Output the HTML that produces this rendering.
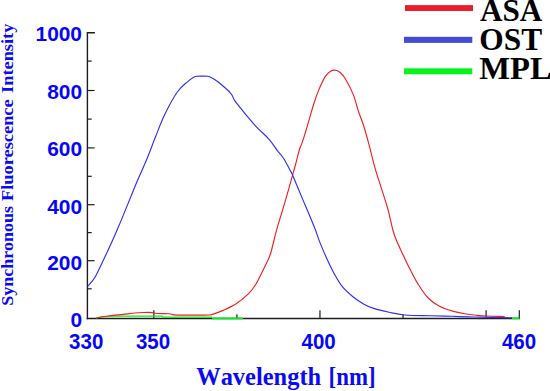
<!DOCTYPE html>
<html><head><meta charset="utf-8">
<style>
html,body{margin:0;padding:0;background:#fff;}
body{width:550px;height:391px;overflow:hidden;}
svg{display:block;}
.tl text{font-family:"Liberation Sans",sans-serif;font-weight:bold;fill:#0606fa;}
.ser{font-family:"Liberation Serif",serif;font-weight:bold;}
</style></head>
<body>
<svg width="550" height="391" viewBox="0 0 550 391">
<rect width="550" height="391" fill="#fff"/>
<!-- axes -->
<g stroke="#1e1e1e" stroke-width="1.2" fill="none">
<line x1="87.4" y1="32.1" x2="87.4" y2="319.3" stroke-width="1.4"/>
<line x1="86.7" y1="318.5" x2="520" y2="318.5" stroke-width="1.6"/>
<line x1="87.4" y1="32.7" x2="95.0" y2="32.7"/>
<line x1="87.4" y1="288.80" x2="91.7" y2="288.80"/>
<line x1="87.4" y1="260.70" x2="94.60000000000001" y2="260.70"/>
<line x1="87.4" y1="232.60" x2="91.7" y2="232.60"/>
<line x1="87.4" y1="204.70" x2="94.60000000000001" y2="204.70"/>
<line x1="87.4" y1="176.30" x2="91.7" y2="176.30"/>
<line x1="87.4" y1="147.90" x2="94.60000000000001" y2="147.90"/>
<line x1="87.4" y1="119.10" x2="91.7" y2="119.10"/>
<line x1="87.4" y1="90.50" x2="94.60000000000001" y2="90.50"/>
<line x1="87.4" y1="61.10" x2="91.7" y2="61.10"/>
<line x1="87.4" y1="32.70" x2="94.60000000000001" y2="32.70"/>
<line x1="153.85" y1="318.5" x2="153.85" y2="310.2"/>
<line x1="236.90" y1="318.5" x2="236.90" y2="314.2"/>
<line x1="319.96" y1="318.5" x2="319.96" y2="310.2"/>
<line x1="403.02" y1="318.5" x2="403.02" y2="314.2"/>
<line x1="486.08" y1="318.5" x2="486.08" y2="310.2"/>
<line x1="519.30" y1="318.5" x2="519.30" y2="310.2"/>
</g>
<!-- green -->
<path d="M95.9,317.8 L101,317 L112,316.2 L162,316.2 L163,317.2 L212,317.2" stroke="#08ee18" stroke-width="1.2" fill="none"/>
<line x1="212" y1="318.4" x2="243" y2="318.4" stroke="#08ee18" stroke-width="1.9"/>
<line x1="512" y1="318.2" x2="519.5" y2="318.2" stroke="#08ee18" stroke-width="1.8"/>
<!-- curves -->
<path d="M96.2,318.2 C97.5,317.9 101.2,317.0 104.0,316.5 C106.8,316.0 109.8,315.8 113.0,315.4 C116.2,315.0 119.3,314.8 123.0,314.4 C126.7,314.0 131.5,313.3 135.0,313.0 C138.5,312.7 141.2,312.6 144.0,312.5 C146.8,312.4 149.8,312.4 152.0,312.6 C154.2,312.8 154.2,313.3 157.0,313.5 C159.8,313.7 166.2,313.5 169.0,313.7 C171.8,313.9 171.2,314.7 174.0,314.9 C176.8,315.1 181.7,315.1 186.0,315.1 C190.3,315.1 196.2,315.1 200.0,315.1 C203.8,315.1 206.7,315.2 209.0,315.0 C211.3,314.8 211.7,314.7 214.0,313.9 C216.3,313.1 219.4,312.0 223.0,310.4 C226.6,308.8 231.5,306.8 235.8,304.0 C240.1,301.2 245.2,297.1 248.6,293.7 C252.0,290.3 253.7,287.8 256.3,283.5 C258.9,279.2 261.6,273.1 264.0,268.2 C266.4,263.3 268.3,260.5 270.4,254.0 C272.5,247.5 274.4,237.7 276.8,229.3 C279.2,220.9 281.9,212.4 284.5,203.7 C287.1,195.0 290.2,183.7 292.1,176.9 C294.0,170.1 294.8,167.3 296.0,162.8 C297.2,158.3 298.2,153.5 299.3,150.0 C300.4,146.5 301.0,146.0 302.4,141.9 C303.8,137.8 305.6,131.7 307.5,125.3 C309.4,118.9 312.0,109.5 313.9,103.5 C315.8,97.5 317.1,93.9 319.0,89.4 C320.9,84.9 323.3,79.6 325.2,76.6 C327.1,73.6 328.6,72.6 330.3,71.5 C332.0,70.4 333.8,70.0 335.5,70.2 C337.2,70.4 338.8,71.3 340.5,72.8 C342.2,74.3 343.5,75.6 345.6,79.2 C347.7,82.8 351.2,89.3 353.3,94.6 C355.4,99.9 356.7,106.1 358.4,111.2 C360.1,116.3 361.8,120.0 363.5,125.3 C365.2,130.6 366.7,136.1 368.6,143.2 C370.5,150.3 372.9,160.4 375.0,167.9 C377.1,175.4 379.3,181.6 381.4,188.4 C383.5,195.2 385.9,201.9 387.8,208.9 C389.7,215.9 391.6,225.3 393.0,230.5 C394.4,235.7 394.4,235.4 396.3,240.0 C398.2,244.6 401.9,252.3 404.5,257.9 C407.1,263.4 409.8,268.8 412.1,273.3 C414.4,277.8 415.9,280.8 418.5,284.8 C421.1,288.8 424.3,294.0 427.7,297.5 C431.1,301.0 434.7,303.7 439.0,306.0 C443.3,308.3 448.9,310.1 453.5,311.4 C458.1,312.7 462.5,313.4 466.3,314.0 C470.1,314.6 473.1,315.0 476.5,315.3 C479.9,315.6 482.1,315.8 486.8,316.0 C491.5,316.2 501.7,316.4 504.7,316.5" stroke="#f02020" stroke-width="1.15" fill="none" stroke-linejoin="round"/>
<path d="M87.7,286.4 C89.0,284.8 92.4,281.7 95.3,276.7 C98.2,271.7 101.8,263.5 105.2,256.3 C108.6,249.1 112.1,241.6 115.6,233.5 C119.1,225.4 123.0,216.0 126.4,207.6 C129.9,199.2 132.9,191.5 136.3,183.3 C139.8,175.1 143.9,166.2 147.1,158.5 C150.3,150.8 152.6,144.1 155.5,136.8 C158.4,129.6 160.9,122.5 164.5,115.0 C168.1,107.5 173.5,97.5 177.3,92.0 C181.1,86.5 185.0,84.1 187.5,81.8 C190.0,79.5 191.0,78.8 192.5,77.9 C194.0,77.0 194.9,76.6 196.5,76.3 C198.1,76.0 200.1,76.1 202.0,76.1 C203.9,76.1 206.3,76.0 208.0,76.3 C209.7,76.6 210.3,77.1 212.0,78.0 C213.7,78.9 214.8,79.2 217.9,81.8 C221.0,84.3 227.7,89.9 230.7,93.3 C233.7,96.7 231.8,96.9 235.8,102.2 C239.9,107.5 249.4,119.1 255.0,125.3 C260.6,131.5 265.5,135.2 269.1,139.3 C272.7,143.4 274.5,146.7 276.8,149.8 C279.1,152.9 281.1,154.5 283.2,157.7 C285.3,160.9 287.9,166.0 289.6,169.2 C291.3,172.4 291.3,172.0 293.4,176.9 C295.5,181.8 299.6,192.0 302.4,198.6 C305.2,205.2 307.9,211.4 310.0,216.5 C312.1,221.6 313.5,225.0 315.2,229.3 C316.9,233.7 317.9,237.4 320.0,242.6 C322.1,247.8 325.1,255.0 327.7,260.5 C330.3,266.0 332.8,271.3 335.4,275.8 C337.9,280.3 340.0,283.9 343.0,287.4 C346.0,290.9 349.9,294.2 353.3,297.0 C356.7,299.8 360.1,302.0 363.5,303.9 C366.9,305.8 369.4,307.0 373.7,308.4 C378.0,309.8 384.0,311.2 389.1,312.3 C394.2,313.4 397.7,314.4 404.5,315.0 C411.3,315.6 422.1,315.6 430.0,315.8 C437.9,316.0 444.7,316.1 452.0,316.3 C459.3,316.5 464.0,316.8 474.0,317.0 C484.0,317.2 505.7,317.7 512.0,317.8" stroke="#3030f0" stroke-width="1.15" fill="none" stroke-linejoin="round"/>
<!-- tick labels -->
<g class="tl">
<text x="82" y="327.1" text-anchor="end" font-size="20.9">0</text>
<text x="82" y="270.0" text-anchor="end" font-size="20.9">200</text>
<text x="82" y="213.5" text-anchor="end" font-size="20.9">400</text>
<text x="82" y="156.1" text-anchor="end" font-size="20.9">600</text>
<text x="82" y="98.7" text-anchor="end" font-size="20.9">800</text>
<text x="82" y="41.1" text-anchor="end" font-size="20.9">1000</text>
<text x="86.2" y="348.8" text-anchor="middle" font-size="21.2" textLength="34.2" lengthAdjust="spacingAndGlyphs">330</text>
<text x="153" y="348.8" text-anchor="middle" font-size="21.2" textLength="34.2" lengthAdjust="spacingAndGlyphs">350</text>
<text x="318.6" y="348.8" text-anchor="middle" font-size="21.2" textLength="34.2" lengthAdjust="spacingAndGlyphs">400</text>
<text x="519" y="348.8" text-anchor="middle" font-size="21.2" textLength="34.2" lengthAdjust="spacingAndGlyphs">460</text>
</g>
<!-- axis titles -->
<text class="ser" x="196.2" y="385" font-size="26" textLength="125" lengthAdjust="spacingAndGlyphs" style="font-kerning:none" fill="#0a0af5">Wavelength</text>
<text class="ser" x="328.6" y="385" font-size="26" textLength="47" lengthAdjust="spacingAndGlyphs" style="font-kerning:none" fill="#0a0af5">[nm]</text>
<g class="ser" font-size="17.4" fill="#0a0af5">
<text transform="translate(12.9,305.7) rotate(-90)" textLength="99.6" lengthAdjust="spacingAndGlyphs">Synchronous</text>
<text transform="translate(12.9,201.1) rotate(-90)" textLength="101.8" lengthAdjust="spacingAndGlyphs">Fluorescence</text>
<text transform="translate(12.9,92.9) rotate(-90)" textLength="69.2" lengthAdjust="spacingAndGlyphs">Intensity</text>
</g>
<!-- legend -->
<rect x="405" y="5.1" width="68" height="5.9" fill="#ea1e28"/>
<rect x="404" y="36.8" width="68.3" height="6.1" fill="#444cd4"/>
<rect x="404" y="68.3" width="68.3" height="6" fill="#06f41a"/>
<g class="ser" font-size="31.5" fill="#000" lengthAdjust="spacingAndGlyphs">
<text x="480" y="21.1" textLength="62.3" lengthAdjust="spacingAndGlyphs">ASA</text>
<text x="479.3" y="50" textLength="62.8" lengthAdjust="spacingAndGlyphs">OST</text>
<text x="479.2" y="78.9" textLength="72.5" lengthAdjust="spacingAndGlyphs">MPL</text>
</g>
</svg>
</body></html>
